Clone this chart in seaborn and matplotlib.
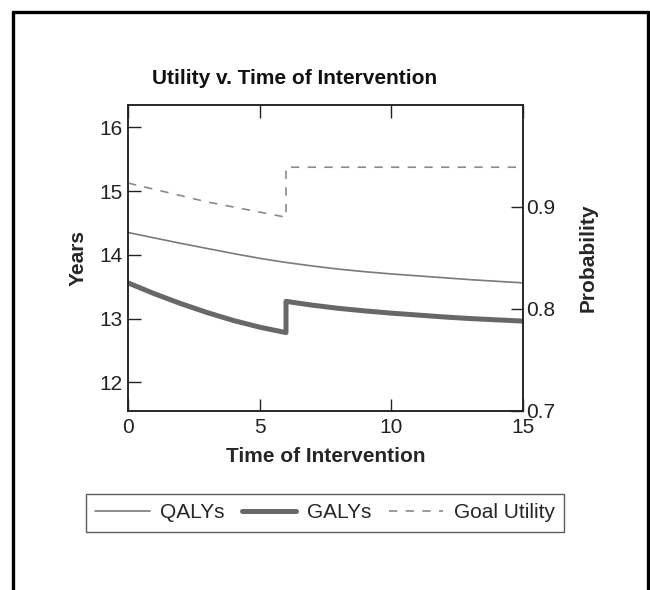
import numpy as np
import pandas as pd
import matplotlib
matplotlib.use("Agg")
import matplotlib.pyplot as plt
from matplotlib.lines import Line2D
import seaborn as sns

# ---- data ----
qaly_x = [0, 1, 2, 3, 4, 5, 6, 7, 8, 9, 10, 11, 12, 13, 14, 15]
qaly_y = [14.35, 14.265, 14.18, 14.10, 14.02, 13.945, 13.88, 13.825, 13.775,
          13.735, 13.70, 13.67, 13.64, 13.61, 13.585, 13.56]

galy_x = [0, 1, 2, 3, 4, 5, 6, 6, 7, 8, 9, 10, 11, 12, 13, 14, 15]
galy_y = [13.56, 13.39, 13.235, 13.095, 12.97, 12.865, 12.78, 13.27, 13.21,
          13.16, 13.12, 13.085, 13.055, 13.025, 13.00, 12.98, 12.96]

goal_x = [0, 3, 6, 6, 15]
goal_y = [0.9235, 0.905, 0.890, 0.939, 0.939]

title = "Utility v. Time of Intervention"
xlabel = "Time of Intervention"
ylabel_left = "Years"
ylabel_right = "Probability"
left_ticks = [12, 13, 14, 15, 16]
right_ticks = [0.7, 0.8, 0.9]
x_ticks = [0, 5, 10, 15]

sns.set_theme(style="white")
plt.rcParams['font.family'] = ['Liberation Sans', 'DejaVu Sans']

fig = plt.figure(figsize=(6.5, 5.9), dpi=100)
ax = fig.add_axes([128/650, 1 - 411/590, (523-128)/650, (411-105)/590])
ax2 = ax.twinx()

qdf = pd.DataFrame({"x": qaly_x, "y": qaly_y})
gdf = pd.DataFrame({"x": galy_x, "y": galy_y})
udf = pd.DataFrame({"x": goal_x, "y": goal_y})

c_q = "#7a7a7a"
c_g = "#686868"
c_u = "#8a8a8a"

sns.lineplot(data=qdf, x="x", y="y", ax=ax, estimator=None, sort=False,
             color=c_q, linewidth=1.2)
sns.lineplot(data=gdf, x="x", y="y", ax=ax, estimator=None, sort=False,
             color=c_g, linewidth=3.6)
sns.lineplot(data=udf, x="x", y="y", ax=ax2, estimator=None, sort=False,
             color=c_u, linewidth=1.2, dashes=False, linestyle=(0, (5, 5)))

ax.set_xlim(0, 15)
ax.set_ylim(11.55, 16.35)
ax2.set_ylim(0.7, 1.0)

ax.set_xticks(x_ticks)
ax.set_xticklabels([str(v) for v in x_ticks])
ax.set_yticks(left_ticks)
ax.set_yticklabels([str(v) for v in left_ticks])
ax2.set_yticks(right_ticks)
ax2.set_yticklabels([f"{v:.1f}" for v in right_ticks])

fs = 15
ax.tick_params(axis="x", which="both", direction="in", length=9, width=1,
               top=True, bottom=True, labelsize=fs, pad=5, colors="#222222")
ax.tick_params(axis="y", direction="in", length=9, width=1, left=True,
               right=False, labelsize=fs, pad=4, colors="#222222")
ax2.tick_params(axis="y", direction="in", length=9, width=1, right=True,
                labelsize=fs, pad=2, colors="#222222")

for a in (ax, ax2):
    for s in a.spines.values():
        s.set_visible(True)
        s.set_color("#222222")
        s.set_linewidth(1.1)

ax.set_xlabel(xlabel, fontsize=fs, fontweight="bold", labelpad=7)
ax.set_ylabel(ylabel_left, fontsize=fs, fontweight="bold", labelpad=8)
ax2.set_ylabel(ylabel_right, fontsize=fs, fontweight="bold", labelpad=17,
               rotation=90)

fig.text(295/650, 1 - 79/590, title, fontsize=fs, fontweight="bold",
         ha="center", va="center", color="#111111")

handles = [Line2D([], [], color=c_q, lw=1.2),
           Line2D([], [], color=c_g, lw=3.6),
           Line2D([], [], color=c_u, lw=1.2, linestyle=(0, (5, 5)))]
leg = fig.legend(handles, ["QALYs", "GALYs", "Goal Utility"], ncol=3,
                 loc="center", bbox_to_anchor=(325/650, 1 - 513/590),
                 fontsize=fs, frameon=True, fancybox=False, handlelength=2.6,
                 columnspacing=0.85, handletextpad=0.5, borderpad=0.45)
leg.get_frame().set_edgecolor("#333333")
leg.get_frame().set_linewidth(1.0)

# outer frame (open at bottom)
border_kw = dict(color="black", lw=2.4, transform=fig.transFigure)
x0, x1, yt = 12.5/650, 647.5/650, 1 - 11.5/590
fig.add_artist(Line2D([x0, x0], [0, yt], **border_kw))
fig.add_artist(Line2D([x1, x1], [0, yt], **border_kw))
fig.add_artist(Line2D([x0, x1], [yt, yt], **border_kw))

fig.savefig("out.png", dpi=100)
